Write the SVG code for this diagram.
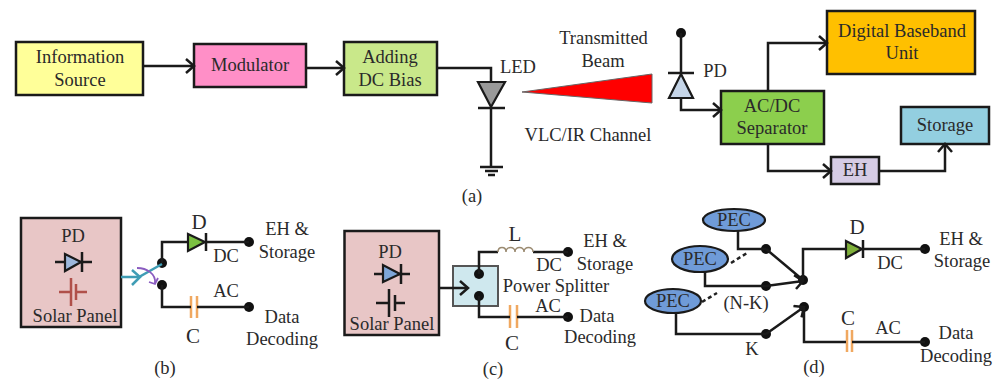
<svg xmlns="http://www.w3.org/2000/svg" width="1001" height="379" viewBox="0 0 1001 379">
<style>
text{font-family:"Liberation Serif","Times New Roman",serif;font-size:18.500px;fill:#2a2a2a;text-anchor:middle}
.big{font-size:21px}
.box{stroke:#1a1a1a;stroke-width:2.5}
.w{fill:none;stroke:#1a1a1a;stroke-width:2.5}
.a{marker-end:url(#arr)}
.d{fill:#111}
.dash{fill:none;stroke:#222;stroke-width:2.5;stroke-dasharray:4 3}
.cap{fill:none;stroke:#f0a860;stroke-width:2.5}
.pec{fill:#6f9bd8;stroke:#1a1a1a;stroke-width:2.2}
.dio{stroke:#1a1a1a;stroke-width:2.2}
</style>
<defs>
<marker id="arr" markerUnits="userSpaceOnUse" markerWidth="14" markerHeight="18" refX="10" refY="8" orient="auto">
<path d="M2 1L10 8L2 15" fill="none" stroke="#1a1a1a" stroke-width="2.5"/>
</marker>
</defs>
<g id="info-source"><rect class="box" x="16" y="42" width="127" height="53" fill="#ffff99"/><text x="80" y="63">Information</text><text x="80" y="86">Source</text></g>
<g id="modulator"><rect class="box" x="194" y="44" width="112" height="43" fill="#ff8fc7"/><text x="250" y="71">Modulator</text></g>
<g id="dc-bias"><rect class="box" x="344" y="42" width="93" height="53" fill="#c9e88a"/><text x="390" y="63">Adding</text><text x="390" y="86">DC Bias</text></g>
<g id="led"><path class="dio" d="M478 82H505L491 107Z" fill="#999"/><path class="w" d="M478 108H505"/><text x="518" y="73">LED</text></g>
<g id="ground"><path class="w" d="M480 167H503M485 171H498"/><path class="w" d="M488 175H495"/></g>
<g id="beam"><path d="M522 92L652 74V103Z" fill="#ff0000" stroke="#666" stroke-width="1"/><text x="603.500" y="44">Transmitted</text><text x="603" y="67">Beam</text><text x="588" y="141">VLC/IR Channel</text></g>
<g id="pd"><circle class="d" cx="681" cy="33" r="5"/><path class="w" d="M668 73H694"/><path class="dio" d="M681 74L669 98H693Z" fill="#c5d5e8"/><text x="715" y="77">PD</text></g>
<g id="separator"><rect class="box" x="721" y="91" width="103" height="53" fill="#8ccf4d"/><text x="772" y="112">AC/DC</text><text x="772" y="134">Separator</text></g>
<g id="baseband"><rect class="box" x="827" y="11" width="148" height="63" fill="#ffc000"/><text x="902" y="37">Digital Baseband</text><text x="902" y="59">Unit</text></g>
<g id="storage"><rect class="box" x="901" y="107" width="88" height="37" fill="#93cfe0"/><text x="945" y="131">Storage</text></g>
<g id="eh"><rect class="box" x="831" y="157" width="48" height="27" fill="#d5cbe4"/><text x="855" y="176">EH</text></g>
<text id="cap-a" x="472" y="202">(a)</text>
<g id="panel-b"><rect class="box" x="21" y="218" width="100" height="109" fill="#e8c6c6"/><text x="73" y="242">PD</text><path class="w" d="M55 262H92"/><path class="dio" d="M65 254V271L81 262Z" fill="#9db8dc"/><path class="w" d="M82 252V272"/><path d="M59 292H71M76 292H87M71 278V306M76 284V300" fill="none" stroke="#b0504a" stroke-width="2.5"/><text x="75" y="322">Solar Panel</text></g>
<g id="switch-b"><circle class="d" cx="162" cy="263" r="5"/><circle class="d" cx="162" cy="285" r="5"/></g>
<g id="diode-b"><path class="dio" d="M188 234V251L205 242Z" fill="#7bc142"/><path class="w" d="M206 233V251"/><text class="big" x="199" y="229">D</text><text x="226" y="262">DC</text></g>
<g id="cap-b"><path class="cap" d="M191 296V318M197 296V318"/><text class="big" x="193" y="343">C</text><text x="226" y="297">AC</text></g>
<g id="out-b1"><circle class="d" cx="249" cy="242" r="5"/><text x="287" y="235">EH &amp;</text><text x="287" y="258">Storage</text></g>
<g id="out-b2"><circle class="d" cx="249" cy="307" r="5"/><text x="282" y="323">Data</text><text x="282" y="345">Decoding</text></g>
<text id="cap-b-label" x="165" y="374">(b)</text>
<g id="panel-c"><rect class="box" x="344.500" y="231" width="94.500" height="104" fill="#e8c6c6"/><text x="390" y="258">PD</text><path class="w" d="M374 274H410"/><path class="dio" d="M383 265V282L400 274Z" fill="#7ea6d8"/><path class="w" d="M401 264V284"/><path class="w" d="M376 303H389M395 303H405M389 289V317M395 295V311"/><text x="392" y="330">Solar Panel</text></g>
<g id="splitter"><rect x="453" y="266" width="45" height="40" fill="#cfe8ee" stroke="#555" stroke-width="2"/><circle class="d" cx="479" cy="274" r="5"/><circle class="d" cx="479" cy="296" r="5"/><text x="556" y="292">Power Splitter</text></g>
<g id="inductor-c"><text class="big" x="515" y="241">L</text><text x="549" y="271">DC</text></g>
<g id="cap-c"><path class="cap" d="M510 305V328M517 305V328"/><text class="big" x="512" y="350">C</text><text x="548" y="312">AC</text></g>
<g id="out-c1"><circle class="d" cx="568" cy="252" r="5"/><text x="605" y="247">EH &amp;</text><text x="605" y="270">Storage</text></g>
<g id="out-c2"><circle class="d" cx="568" cy="317" r="5"/><text x="597" y="322">Data</text><text x="600" y="343">Decoding</text></g>
<text id="cap-c-label" x="493" y="375">(c)</text>
<g id="pec1"><ellipse class="pec" cx="734" cy="220" rx="31" ry="11"/><text x="734" y="226">PEC</text></g>
<g id="pec2"><ellipse class="pec" cx="700" cy="259" rx="28" ry="13"/><text x="700" y="265">PEC</text></g>
<g id="pec3"><ellipse class="pec" cx="673" cy="301" rx="28" ry="12"/><text x="673" y="307">PEC</text></g>
<g id="switch-d"><circle class="d" cx="766" cy="249" r="5"/><circle class="d" cx="766" cy="286" r="5"/><circle class="d" cx="766" cy="334" r="5"/><circle class="d" cx="803" cy="280" r="5"/><circle class="d" cx="804" cy="307" r="5"/><text x="746" y="309">(N-K)</text><text x="752" y="355">K</text></g>
<g id="diode-d"><path class="dio" d="M846 241V258L862 249Z" fill="#7fb03a"/><path class="w" d="M863 240V258"/><text class="big" x="857" y="234">D</text><text x="890" y="269">DC</text></g>
<g id="cap-d"><path class="cap" d="M847 330V352M852 330V352"/><text class="big" x="848" y="325">C</text><text x="888" y="334">AC</text></g>
<g id="out-d1"><circle class="d" cx="925" cy="249" r="5"/><text x="961" y="245">EH &amp;</text><text x="962" y="267">Storage</text></g>
<g id="out-d2"><circle class="d" cx="925" cy="342" r="5"/><text x="956" y="339">Data</text><text x="956" y="362">Decoding</text></g>
<text id="cap-d-label" x="814" y="373">(d)</text>
<g id="connectors">
<path class="w a" d="M144 66H194"/>
<path class="w a" d="M306 68H344"/>
<path class="w" d="M437 68H491V82"/>
<path class="w" d="M491 107V166"/>
<path class="w" d="M681 33V73"/>
<path class="w a" d="M681 98V110H721"/>
<path class="w a" d="M768 91V43H827"/>
<path class="w a" d="M768 144V171H831"/>
<path class="w a" d="M879 171H945V144"/>
<path class="w" d="M162 263V242H188"/>
<path class="w" d="M206 242H249"/>
<path class="w" d="M162 285V307H191"/>
<path class="w" d="M197 307H249"/>
<path d="M121 277H139L162 264" fill="none" stroke="#3f9db5" stroke-width="2.5"/>
<path d="M132 270L140 277L132 285" fill="none" stroke="#3f9db5" stroke-width="2.5"/>
<path d="M137 268C147 268 156 274 155 283" fill="none" stroke="#8a5cc0" stroke-width="1.8"/>
<path d="M149 282L155 284L158 278" fill="none" stroke="#8a5cc0" stroke-width="1.8"/>
<path class="w a" d="M439 288H468"/>
<path class="w" d="M479 274V252H498"/>
<path class="w" d="M533 252H568"/>
<path class="w" d="M479 296V317H510"/>
<path class="w" d="M517 317H568"/>
<path d="M498 252c0-6 8-6 8 0c0-6 9-6 9 0c0-6 9-6 9 0c0-6 9-6 9 0" fill="none" stroke="#9a8a70" stroke-width="1.500"/>
<path class="w" d="M738 231V249H766"/>
<path class="w" d="M705 272V286H766"/>
<path class="w" d="M676 313V334H766"/>
<path class="dash" d="M731 263L747 253"/>
<path class="dash" d="M702 302L717 293"/>
<path class="w" d="M766 249L803 280"/>
<path class="w a" d="M766 286L803 281"/>
<path class="w a" d="M766 334L804 307"/>
<path class="w" d="M803 280V249H846"/>
<path class="w" d="M863 249H925"/>
<path class="w" d="M804 307V342H846"/>
<path class="w" d="M852 342H925"/>
</g>
</svg>
